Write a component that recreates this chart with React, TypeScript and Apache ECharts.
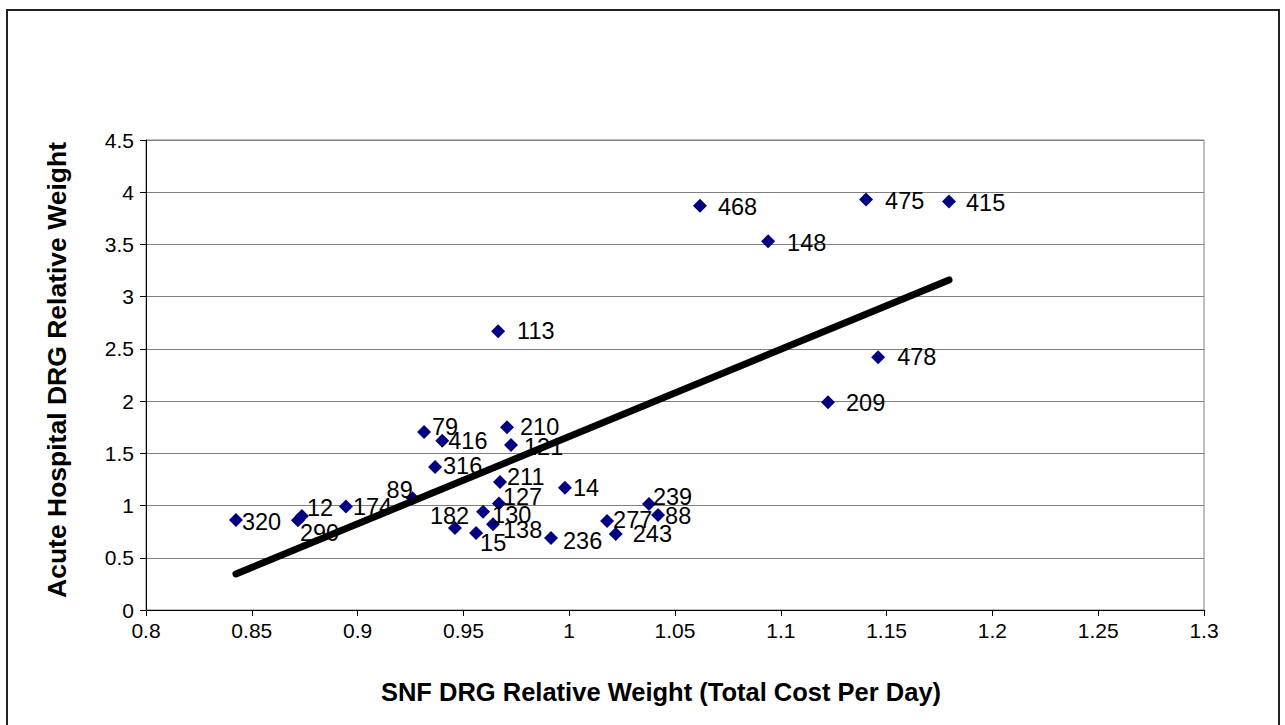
import React, { useEffect, useRef } from "react";
import * as echarts from "echarts";

const drgCodes = ["320", "12", "290", "174", "89", "79", "416", "316", "182", "15", "130", "138", "127", "211", "210", "121", "113", "14", "236", "277", "243", "239", "88", "468", "148", "475", "415", "478", "209"];
const snfWeights = [0.8425, 0.8737, 0.8718, 0.8945, 0.926, 0.9314, 0.940, 0.9366, 0.946, 0.956, 0.9593, 0.964, 0.9668, 0.9673, 0.9706, 0.9725, 0.9664, 0.998, 0.9914, 1.0179, 1.022, 1.0377, 1.042, 1.0618, 1.094, 1.1403, 1.1795, 1.146, 1.1223];
const acuteWeights = [0.862, 0.90, 0.86, 0.99, 1.07, 1.705, 1.62, 1.37, 0.785, 0.737, 0.94, 0.82, 1.02, 1.226, 1.75, 1.58, 2.67, 1.17, 0.69, 0.853, 0.728, 1.015, 0.91, 3.87, 3.53, 3.93, 3.91, 2.42, 1.99];
// label offsets (text left edge / vertical center relative to the point), in px
const labelOffsets: [number, number][] = [[6, 2], [5, -8], [2, 13], [7, 0], [-26, -8], [8, -5], [6, 0], [8, -1], [-25, -12], [4, 10], [9, 3], [10, 6], [4, -6], [7, -5], [13, 0], [13, 2], [19, 0], [8, 0], [12, 3], [6, -1], [17, 0], [4, -7], [7, 1], [18, 1], [19, 2], [19, 1], [17, 1], [19, 0], [18, 1]];
const trendX = [0.8425, 1.1795];
const trendY = [0.345, 3.16];

const xTitle = "SNF DRG Relative Weight (Total Cost Per Day)";
const yTitle = "Acute Hospital DRG Relative Weight";

const FONT = "'Liberation Sans', Arial, sans-serif";

export default function App() {
  const ref = useRef<HTMLDivElement>(null);
  useEffect(() => {
    if (!ref.current) return;
    const chart = echarts.init(ref.current, null, { renderer: "svg" });
    const fmt = (v: number) => String(+v.toFixed(2));
    chart.setOption({
      animation: false,
      backgroundColor: "#ffffff",
      grid: { left: 146, right: 81, top: 140, bottom: 115, show: true, borderColor: "#808080", borderWidth: 1 },
      xAxis: {
        type: "value", min: 0.8, max: 1.3, interval: 0.05,
        axisLine: { show: true, lineStyle: { color: "#000", width: 1 } },
        axisTick: { show: true, inside: false, length: 6, lineStyle: { color: "#000" } },
        splitLine: { show: false },
        axisLabel: { color: "#000", fontSize: 21, fontFamily: FONT, margin: 10, formatter: fmt },
      },
      yAxis: {
        type: "value", min: 0, max: 4.5, interval: 0.5,
        axisLine: { show: true, lineStyle: { color: "#000", width: 1 } },
        axisTick: { show: true, inside: false, length: 6, lineStyle: { color: "#000" } },
        splitLine: { show: true, lineStyle: { color: "#808080", width: 1 } },
        axisLabel: { color: "#000", fontSize: 21, fontFamily: FONT, margin: 12, formatter: fmt },
      },
      graphic: [
        { type: "rect", z: -10, shape: { x: 7, y: 10, width: 1272, height: 740 }, style: { fill: "none", stroke: "#222", lineWidth: 2 } },
        { type: "text", x: 661, y: 692, style: { text: xTitle, fill: "#000", font: `bold 25.5px ${FONT}`, textAlign: "center", textVerticalAlign: "middle" } },
        { type: "text", x: 57, y: 370, rotation: Math.PI / 2, style: { text: yTitle, fill: "#000", font: `bold 26.5px ${FONT}`, textAlign: "center", textVerticalAlign: "middle" } },
      ],
      series: [
        {
          type: "scatter", z: 2,
          symbol: "diamond", symbolSize: 14,
          itemStyle: { color: "#000080", opacity: 1 },
          label: { show: true, position: "right", distance: 0, color: "#000", fontSize: 23.5, fontFamily: FONT, formatter: (p: any) => p.name },
          data: drgCodes.map((c, i) => ({
            name: c,
            value: [snfWeights[i], acuteWeights[i]],
            label: { offset: [labelOffsets[i][0] - 7, labelOffsets[i][1]] },
          })),
        },
        {
          type: "line", z: 5, symbol: "none", silent: true,
          lineStyle: { color: "#000", width: 7, cap: "round" },
          data: trendX.map((x, i) => [x, trendY[i]]),
        },
      ],
    });
    return () => chart.dispose();
  }, []);
  return <div ref={ref} style={{ position: "absolute", left: 0, top: 0, width: 1285, height: 725 }} />;
}
